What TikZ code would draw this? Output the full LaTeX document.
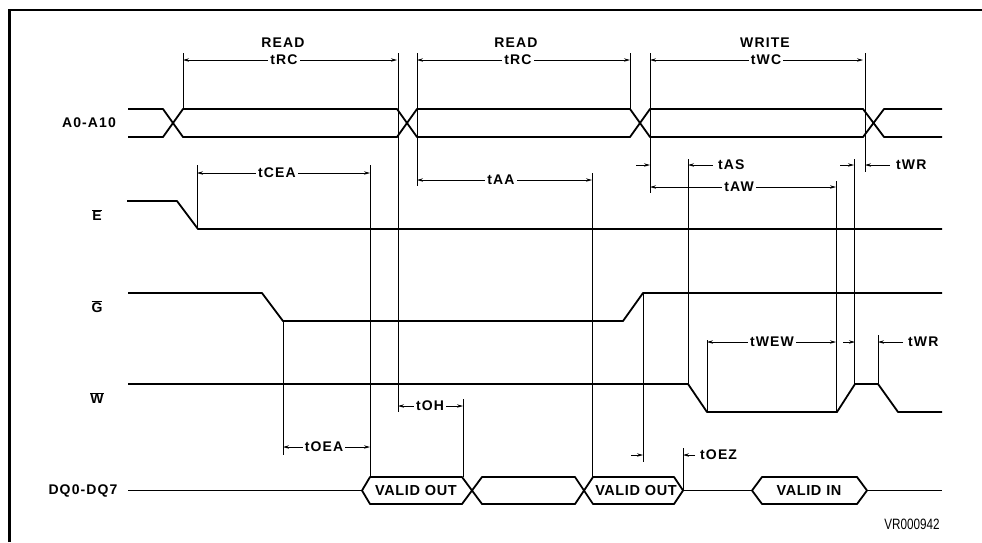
\documentclass[tikz,border=0pt]{standalone}
\usepackage{fontspec}
\setmainfont{Liberation Sans}
\usetikzlibrary{arrows.meta}
\begin{document}
\begin{tikzpicture}[x=1pt,y=-1pt,
  sig/.style={line width=1.8pt,line join=round},
  vref/.style={line width=0.9pt},
  dimln/.style={line width=0.8pt,{Stealth[length=6pt,width=3.4pt]}-{Stealth[length=6pt,width=3.4pt]}},
  dimin/.style={line width=0.8pt,-{Stealth[length=6pt,width=3.4pt]}},
  lab/.style={font=\bfseries\fontsize{14}{16}\selectfont\addfontfeature{LetterSpace=8},inner sep=1pt},
  dlab/.style={lab,fill=white,inner sep=2pt},
  vlab/.style={font=\bfseries\fontsize{14.5}{17}\selectfont\addfontfeature{LetterSpace=4},inner sep=0pt}
]
\path[use as bounding box] (0,0) rectangle (982,542);
% frame
\draw[line width=2.2pt] (9.5,542) -- (9.5,10) -- (982,10);

% signal names
\node[lab] (nA) at (89,123) {A0-A10};
\node[lab] (nE) at (97,215) {$\overline{\mbox{E}}$};
\node[lab] (nG) at (97,307) {$\overline{\mbox{G}}$};
\node[lab] (nW) at (97,398) {$\overline{\mbox{W}}$};
\node[lab] (nDQ) at (83,491) {DQ0-DQ7};

% address bus
\draw[sig] (128,109) -- (163,109) -- (183,137) -- (397,137) -- (417,109) -- (630,109) -- (650,137) -- (863,137) -- (884,109) -- (942,109);
\draw[sig] (128,137) -- (163,137) -- (183,109) -- (397,109) -- (417,137) -- (630,137) -- (650,109) -- (863,109) -- (884,137) -- (942,137);

% E
\draw[sig] (127,201) -- (177,201) -- (198,229) -- (942,229);
% G
\draw[sig] (128,293) -- (262,293) -- (283,321) -- (623,321) -- (643,293) -- (942,293);
% W
\draw[sig] (128,384) -- (688,384) -- (707,412) -- (837,412) -- (855,384) -- (878,384) -- (898,412) -- (942,412);

% DQ
\draw[sig] (128,490.5) -- (362,490.5);
\draw[sig] (362,490.5) -- (370,477) -- (462,477) -- (472,490.5) -- (462,504) -- (370,504) -- cycle;
\draw[sig] (472,490.5) -- (482,477) -- (575,477) -- (584,490.5) -- (575,504) -- (482,504) -- cycle;
\draw[sig] (584,490.5) -- (593,477) -- (674,477) -- (683,490.5) -- (674,504) -- (593,504) -- cycle;
\draw[sig] (683,490.5) -- (752,490.5);
\draw[sig] (752,490.5) -- (762,477) -- (857,477) -- (867,490.5) -- (857,504) -- (762,504) -- cycle;
\draw[sig] (867,490.5) -- (942,490.5);
\node[vlab] (vo1) at (416,490.5) {VALID\hspace{5pt}OUT};
\node[vlab] (vo2) at (636,490.5) {VALID\hspace{5pt}OUT};
\node[vlab] (vi) at (809,490.5) {VALID\hspace{5pt}IN};

% vertical reference lines
\draw[vref] (183,53) -- (183,109);
\draw[vref] (398,53) -- (398,412);
\draw[vref] (417,53) -- (417,186);
\draw[vref] (630,53) -- (630,109);
\draw[vref] (650,53) -- (650,193);
\draw[vref] (865,53) -- (865,172);
\draw[vref] (197,165) -- (197,229);
\draw[vref] (370,165) -- (370,477);
\draw[vref] (592,173) -- (592,477);
\draw[vref] (283,321) -- (283,455);
\draw[vref] (463,399) -- (463,477);
\draw[vref] (643,293) -- (643,462);
\draw[vref] (683,448) -- (683,490.5);
\draw[vref] (688,159) -- (688,384);
\draw[vref] (836,181) -- (836,412);
\draw[vref] (854,159) -- (854,384);
\draw[vref] (707,340) -- (707,412);
\draw[vref] (878,335) -- (878,384);

% top cycle dimensions
\draw[dimln] (183,60) -- (397,60);
\node[dlab] (tRC1) at (284,60) {tRC};
\node[lab] (rd1) at (283,43) {READ};
\draw[dimln] (417,60) -- (630,60);
\node[dlab] (tRC2) at (518,60) {tRC};
\node[lab] (rd2) at (516,43) {READ};
\draw[dimln] (650,60) -- (863,60);
\node[dlab] (tWC) at (766,60) {tWC};
\node[lab] (wr) at (765,43) {WRITE};

% tCEA, tAA, tAW
\draw[dimln] (197,173) -- (370,173);
\node[dlab] (tCEA) at (277,173) {tCEA};
\draw[dimln] (417,180) -- (592,180);
\node[dlab] (tAA) at (501,180) {tAA};
\draw[dimln] (650,187) -- (836,187);
\node[dlab] (tAW) at (739,187) {tAW};

% tAS (outside arrows)
\draw[dimin] (636,165) -- (650,165);
\draw[dimin] (713,165) -- (688,165);
\node[lab,anchor=west] (tAS) at (717,165) {tAS};
% tWR top
\draw[dimin] (840,165) -- (854,165);
\draw[dimin] (890,165) -- (865,165);
\node[lab,anchor=west] (tWR1) at (895,165) {tWR};

% tWEW
\draw[dimln] (707,342) -- (836,342);
\node[dlab] (tWEW) at (772,342) {tWEW};
% tWR lower
\draw[dimin] (843,342) -- (855,342);
\draw[dimin] (903,342) -- (878,342);
\node[lab,anchor=west] (tWR2) at (907,342) {tWR};

% tOEA, tOH, tOEZ
\draw[dimln] (283,447) -- (370,447);
\node[dlab] (tOEA) at (324,447) {tOEA};
\draw[dimln] (398,406) -- (463,406);
\node[dlab] (tOH) at (430,406) {tOH};
\draw[dimin] (631,455) -- (643,455);
\draw[dimin] (695,455) -- (683,455);
\node[lab,anchor=west] (tOEZ) at (699,455) {tOEZ};

% figure code
\node[font=\fontsize{15}{17}\selectfont,inner sep=0pt] (vr) at (912,524) {\scalebox{0.78}[1]{VR000942}};
\end{tikzpicture}
\end{document}
